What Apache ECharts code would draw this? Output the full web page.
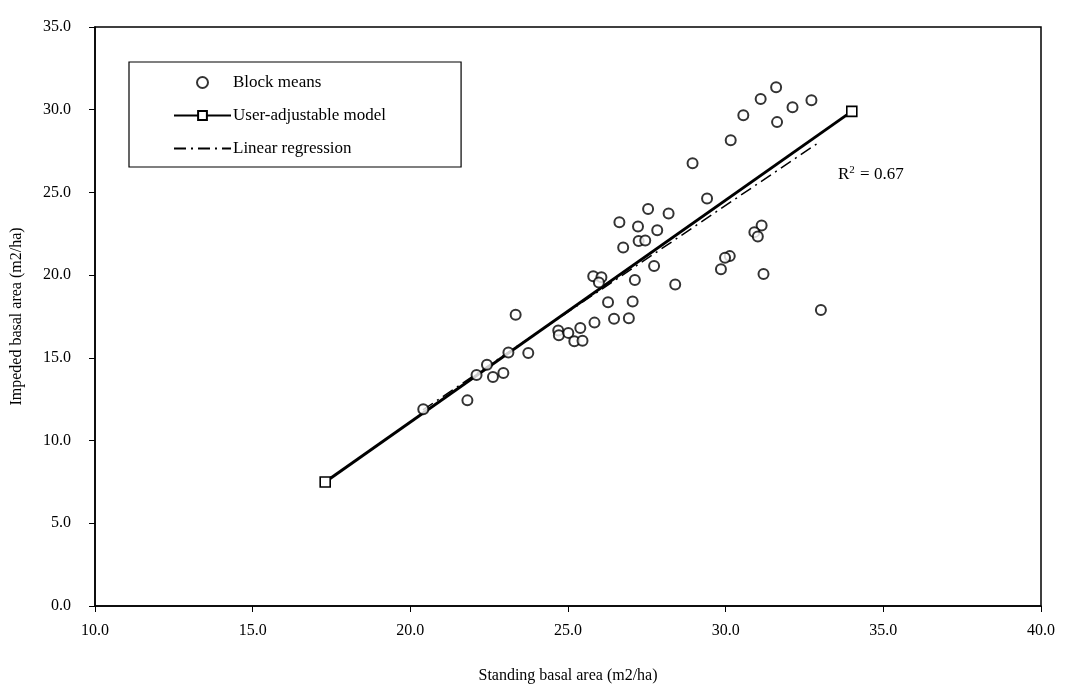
<!DOCTYPE html>
<html>
<head>
<meta charset="utf-8">
<script src="https://cdn.jsdelivr.net/npm/echarts@6/dist/echarts.min.js"></script>
<style>
  html, body { margin: 0; background: #fff; }
  #main { width: 1083px; height: 689px; }
</style>
</head>
<body>
<div id="main"></div>
<script>
// block means
var standing = [31.60, 31.11, 32.72, 32.12, 30.56, 31.63, 30.16, 28.95, 29.41, 27.54,
  28.19, 26.63, 27.22, 27.83, 27.24, 27.45, 26.75, 31.14, 30.91, 31.02,
  25.80, 26.06, 25.98, 27.12, 27.73, 30.13, 29.98, 29.85, 31.20, 28.40,
  26.27, 27.05, 33.02, 23.34, 25.84, 26.46, 26.93, 25.39, 24.69, 24.71,
  25.01, 25.20, 25.46, 23.11, 23.74, 22.43, 22.10, 22.62, 22.95, 21.81, 20.41];
var impeded = [31.36, 30.65, 30.57, 30.15, 29.67, 29.25, 28.15, 26.76, 24.63, 24.00,
  23.73, 23.20, 22.94, 22.72, 22.06, 22.10, 21.67, 23.00, 22.60, 22.34,
  19.93, 19.87, 19.55, 19.71, 20.55, 21.15, 21.05, 20.35, 20.07, 19.43,
  18.36, 18.40, 17.90, 17.60, 17.13, 17.37, 17.40, 16.80, 16.65, 16.37,
  16.51, 16.01, 16.03, 15.33, 15.29, 14.58, 13.96, 13.84, 14.08, 12.43, 11.89];

// user-adjustable model end points
var modelX = [17.3, 34.0];
var modelY = [7.5, 29.9];

// linear regression end points
var regX = [20.4, 32.9];
var regY = [11.85, 27.95];

var rSquared = '0.67';

var serif = 'Liberation Serif';

function zip(a, b) {
  return a.map(function (v, i) { return [v, b[i]]; });
}

var chart = echarts.init(document.getElementById('main'));

var option = {
  backgroundColor: '#fff',
  animation: false,
  textStyle: { fontFamily: serif, color: '#000' },
  grid: {
    left: 95, right: 42, top: 27, bottom: 75,
    show: true, borderColor: '#000', borderWidth: 1.5
  },
  legend: {
    orient: 'vertical',
    left: 129, top: 62,
    padding: [12, 75, 10, 44],
    itemGap: 16,
    itemWidth: 57,
    itemHeight: 11,
    borderColor: '#000',
    borderWidth: 1.2,
    textStyle: { fontFamily: serif, fontSize: 17, color: '#000', padding: [0, 0, 0, -3] },
    data: [
      'Block means',
      'User-adjustable model',
      { name: 'Linear regression', itemStyle: { opacity: 0 } }
    ]
  },
  xAxis: {
    type: 'value',
    min: 10, max: 40, interval: 5,
    name: 'Standing basal area (m2/ha)',
    nameLocation: 'middle',
    nameGap: 62,
    nameTextStyle: { fontFamily: serif, fontSize: 16, color: '#000' },
    axisLine: { lineStyle: { color: '#000', width: 1.5 } },
    axisTick: { show: true, length: 6, lineStyle: { color: '#000' } },
    axisLabel: {
      margin: 17, fontSize: 16, fontFamily: serif, color: '#000',
      formatter: function (v) { return v.toFixed(1); }
    },
    splitLine: { show: false }
  },
  yAxis: {
    type: 'value',
    min: 0, max: 35, interval: 5,
    name: 'Impeded basal area (m2/ha)',
    nameLocation: 'middle',
    nameGap: 70,
    nameTextStyle: { fontFamily: serif, fontSize: 16, color: '#000' },
    axisLine: { show: true, lineStyle: { color: '#000', width: 1.5 } },
    axisTick: { show: true, length: 6, lineStyle: { color: '#000' } },
    axisLabel: {
      margin: 24, fontSize: 16, fontFamily: serif, color: '#000',
      formatter: function (v) { return v.toFixed(1); }
    },
    splitLine: { show: false }
  },
  series: [
    {
      name: 'Block means',
      type: 'scatter',
      symbol: 'circle',
      symbolSize: 10,
      itemStyle: { color: '#fff', borderColor: '#000', borderWidth: 2 },
      data: zip(standing, impeded),
      z: 3
    },
    {
      name: 'User-adjustable model',
      type: 'line',
      symbol: 'rect',
      symbolSize: 10,
      showAllSymbol: true,
      lineStyle: { color: '#000', width: 3 },
      itemStyle: { color: '#fff', borderColor: '#000', borderWidth: 1.6 },
      data: zip(modelX, modelY),
      z: 2
    },
    {
      name: 'Linear regression',
      type: 'line',
      symbol: 'none',
      lineStyle: { color: '#000', width: 1.5, type: [12, 5, 2, 5] },
      itemStyle: { color: '#000' },
      data: zip(regX, regY),
      z: 1
    }
  ],
  graphic: [
    {
      type: 'text',
      left: 838,
      top: 165,
      style: {
        text: 'R{sup|2} = ' + rSquared,
        font: '17px "Liberation Serif"',
        fill: '#000',
        rich: {
          sup: { fontSize: 11, fontFamily: serif, verticalAlign: 'top', padding: [0, 1, 8, 0], fill: '#000' }
        }
      }
    }
  ]
};

chart.setOption(option);
</script>
</body>
</html>
